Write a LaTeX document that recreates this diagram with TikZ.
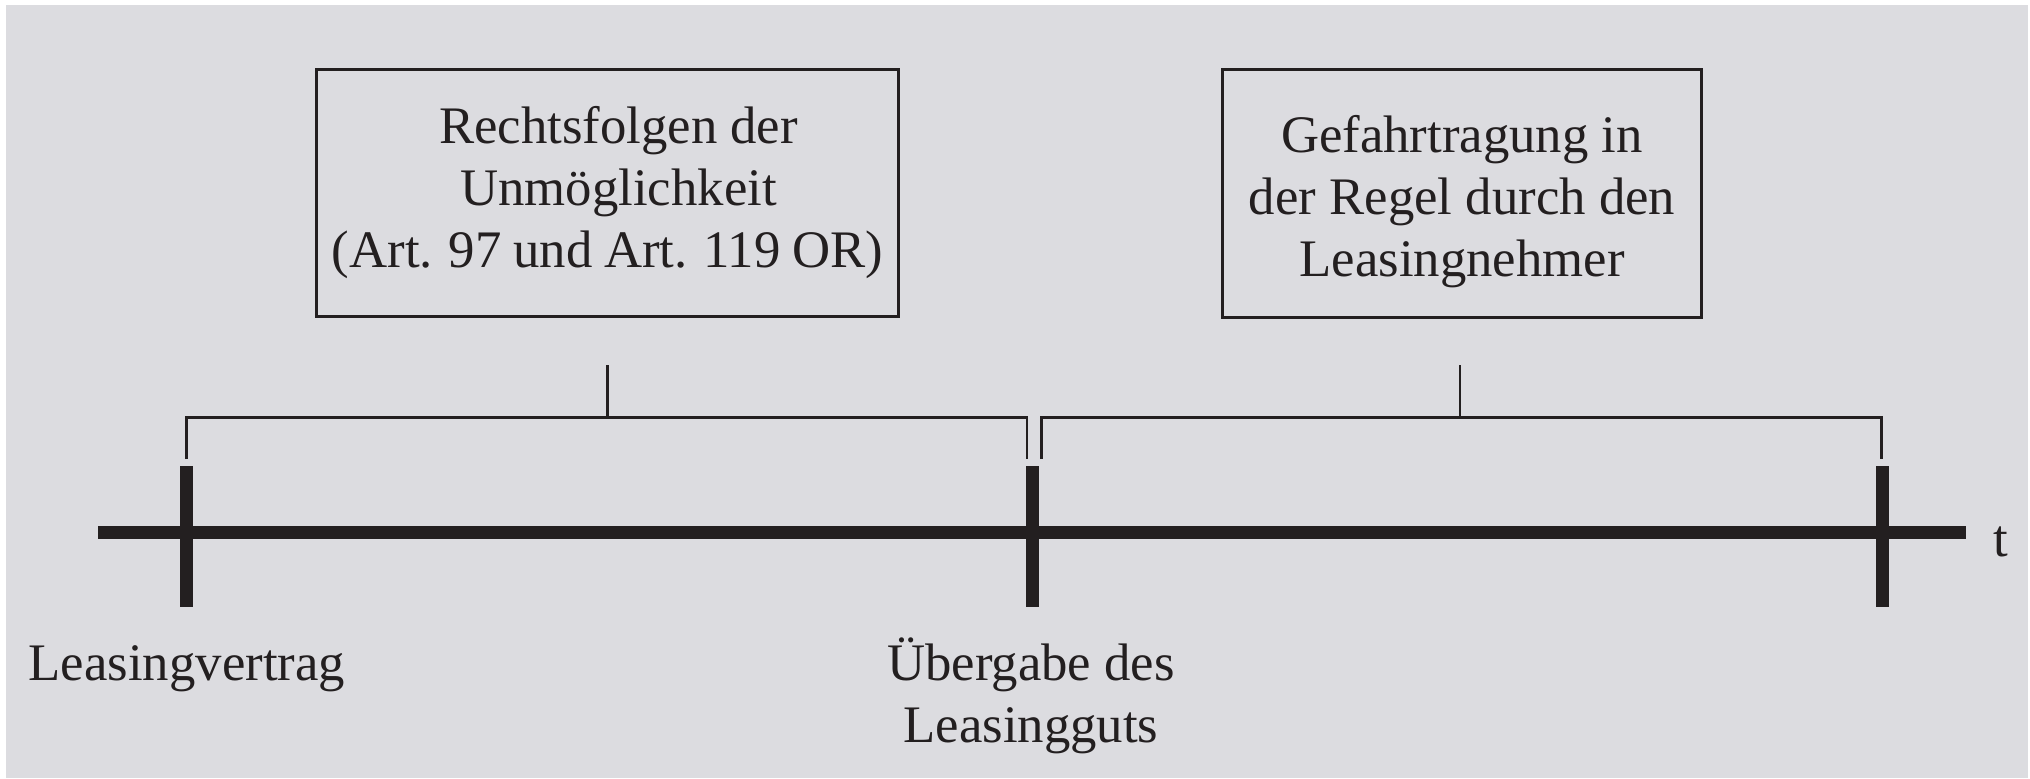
\documentclass[tikz,border=0pt]{standalone}
\usepackage{fontspec}
\setmainfont{Liberation Serif}
\definecolor{bg}{RGB}{220,220,224}
\definecolor{ink}{RGB}{35,31,32}
\begin{document}
\begin{tikzpicture}[x=0.01cm,y=-0.01cm,
  every node/.style={font=\fontsize{15}{17.64}\selectfont, text=ink, inner sep=0pt},
  infobox/.style={draw=ink, line width=0.85pt, align=center, rectangle},
  axisline/.style={draw=ink, line width=3.7pt},
  tickmark/.style={draw=ink, line width=3.7pt},
  bracketline/.style={draw=ink, line width=0.74pt}
]
\useasboundingbox (0,0) rectangle (2030,778);
\fill[white] (0,0) rectangle (2030,778);
\fill[bg] (6,5) rectangle (2028,778);

% boxes
\node[infobox, minimum width=5.82cm, minimum height=2.47cm] (b1) at (607.5,193)
  {\hspace*{0.22cm}Rechtsfolgen der\\\hspace*{0.22cm}Unmöglichkeit\\{\spaceskip=0.22em (Art. 97 und Art. 119 OR)}};
\node[infobox, minimum width=4.79cm, minimum height=2.48cm] (b2) at (1462,193.5)
  {\rule{0pt}{15.4pt}Gefahrtragung in\\der Regel durch den\\Leasingnehmer};

% time axis
\coordinate (axL) at (98,532.5);
\coordinate (axR) at (1966,532.5);
\draw[axisline] (axL) -- (axR);
\node[anchor=base west] (t) at (1993,556) {t};

% ticks
\coordinate (k1a) at (186.5,466); \coordinate (k1b) at (186.5,607);
\coordinate (k2a) at (1032.5,466); \coordinate (k2b) at (1032.5,607);
\coordinate (k3a) at (1882,466); \coordinate (k3b) at (1882,607);
\draw[tickmark] (k1a) -- (k1b);
\draw[tickmark] (k2a) -- (k2b);
\draw[tickmark] (k3a) -- (k3b);

% brackets
\coordinate (p1) at (186.5,459); \coordinate (p2) at (1027,459);
\coordinate (p3) at (1041.5,459); \coordinate (p4) at (1881.5,459);
\coordinate (s1) at (607.5,365); \coordinate (s1b) at (607.5,417.5);
\coordinate (s2) at (1460,365); \coordinate (s2b) at (1460,417.5);
\draw[bracketline] (p1) |- (s1b) -| (p2);
\draw[bracketline] (s1) -- (s1b);
\draw[bracketline] (p3) |- (s2b) -| (p4);
\draw[bracketline] (s2) -- (s2b);

% labels
\node[anchor=base west] (lv) at (28,680) {Leasingvertrag};
\node[anchor=base] (ub) at (1031,680)
  {\begin{tabular}[t]{@{}c@{}}Übergabe des\\Leasingguts\end{tabular}};
\end{tikzpicture}
\end{document}
